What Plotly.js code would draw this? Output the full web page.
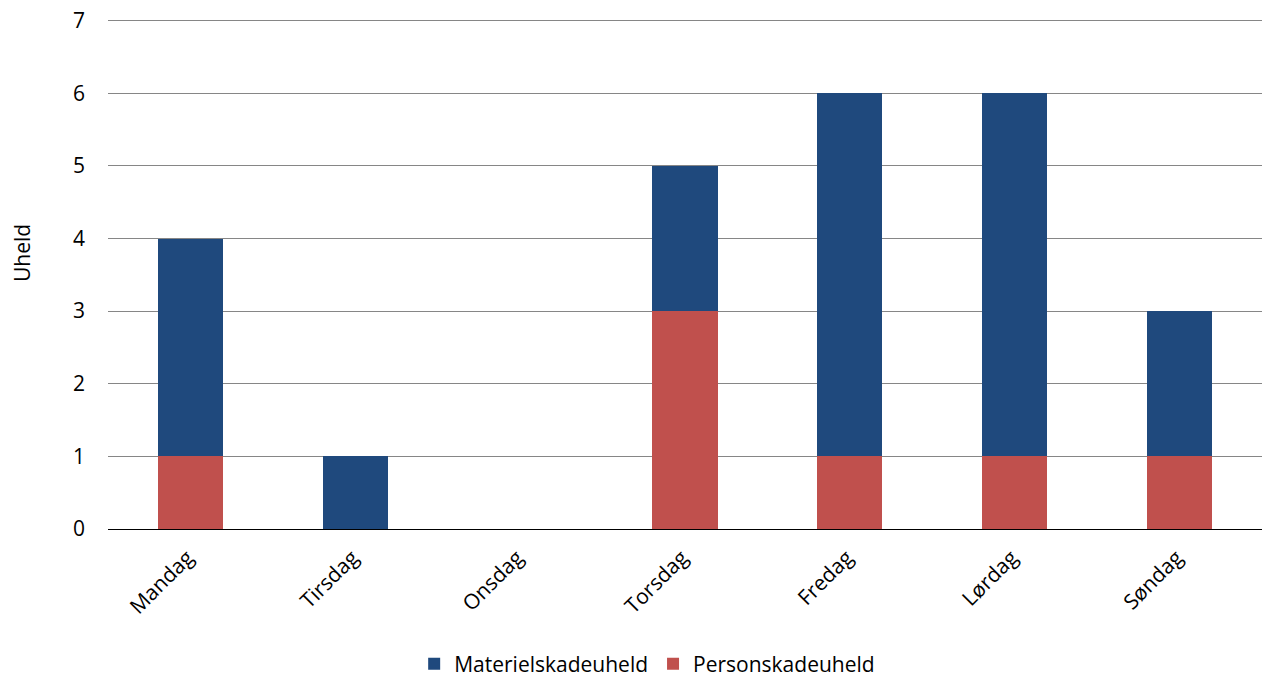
<!DOCTYPE html>
<html>
<head>
<meta charset="utf-8">
<script src="https://cdn.plot.ly/plotly-3.0.1.min.js"></script>
<style>
  html, body { margin: 0; padding: 0; background: #fff; }
  #chart { width: 1264px; height: 677px; }
</style>
</head>
<body>
<div id="chart"></div>
<script>
// Ulykker fordelt på ugedag
const days = ["Mandag", "Tirsdag", "Onsdag", "Torsdag", "Fredag", "Lørdag", "Søndag"];
const personskade = [1, 0, 0, 3, 1, 1, 1];
const materielskade = [3, 1, 0, 2, 5, 5, 2];
const yTicks = [0, 1, 2, 3, 4, 5, 6, 7];
const yTitle = "Uheld";

const fontFamily = "'Open Sans', 'Noto Sans', sans-serif";
const fontSize = 21;

const traces = [
  {
    type: "bar",
    name: "Personskadeuheld",
    x: days,
    y: personskade,
    marker: { color: "#C0504D" },
    hoverinfo: "x+y+name"
  },
  {
    type: "bar",
    name: "Materielskadeuheld",
    x: days,
    y: materielskade,
    marker: { color: "#1F497D" },
    hoverinfo: "x+y+name"
  }
];

const layout = {
  width: 1264,
  height: 677,
  barmode: "stack",
  bargap: 0.605,
  paper_bgcolor: "#ffffff",
  plot_bgcolor: "#ffffff",
  margin: { l: 108, r: 2, t: 17, b: 148, pad: 0, autoexpand: false },
  font: { family: fontFamily, size: fontSize, color: "#000000" },
  showlegend: true,
  legend: {
    orientation: "h",
    xref: "container",
    yref: "container",
    x: 0.512,
    xanchor: "center",
    y: 0.019,
    yanchor: "middle",
    traceorder: "reversed",
    font: { family: fontFamily, size: fontSize, color: "#000000" }
  },
  xaxis: {
    type: "category",
    automargin: false,
    tickangle: -45,
    showgrid: false,
    showline: true,
    linecolor: "#000000",
    linewidth: 1,
    ticks: "",
    ticklabelstandoff: 7,
    ticklabelshift: -3,
    tickfont: { family: fontFamily, size: fontSize, color: "#000000" },
    fixedrange: true
  },
  yaxis: {
    automargin: false,
    range: [0, 7.05],
    tickvals: yTicks,
    ticktext: yTicks.map(String),
    showgrid: true,
    gridcolor: "#868686",
    gridwidth: 1,
    zeroline: true,
    zerolinecolor: "#000000",
    zerolinewidth: 1,
    showline: false,
    ticks: "",
    ticklabelstandoff: 22,
    tickfont: { family: fontFamily, size: fontSize, color: "#000000" },
    fixedrange: true
  },
  annotations: [
    {
      text: yTitle,
      textangle: -90,
      xref: "paper",
      yref: "paper",
      x: 0,
      xanchor: "center",
      xshift: -86,
      y: 0.539,
      yanchor: "middle",
      showarrow: false,
      font: { family: fontFamily, size: fontSize, color: "#000000" }
    }
  ]
};

Plotly.newPlot("chart", traces, layout, { displayModeBar: false, staticPlot: true });
</script>
</body>
</html>
